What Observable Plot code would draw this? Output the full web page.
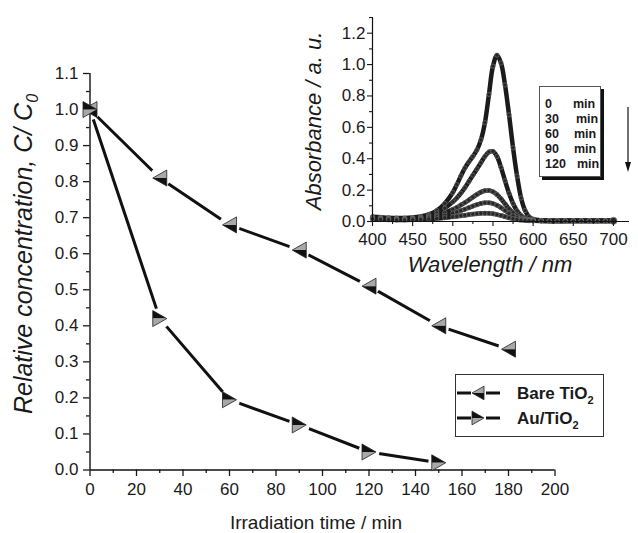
<!DOCTYPE html>
<html><head><meta charset="utf-8">
<script src="https://cdn.jsdelivr.net/npm/d3@7"></script>
<script src="https://cdn.jsdelivr.net/npm/@observablehq/plot@0.6"></script>
<style>
body{margin:0;background:#fff;}
#wrap{position:relative;width:638px;height:533px;font-family:"Liberation Sans",Arial,Helvetica,sans-serif;color:#1a1a1a;}
#wrap > *{position:absolute;}
</style></head><body><div id="wrap"></div>
<script>
const FONT = '"Liberation Sans", Arial, Helvetica, sans-serif';

// ---- main chart data ----
const timesBare = [0, 30, 60, 90, 120, 150, 180];
const bareTiO2  = [1.00, 0.81, 0.68, 0.61, 0.51, 0.40, 0.335];
const timesAu   = [0, 30, 60, 90, 120, 150];
const auTiO2    = [1.00, 0.42, 0.195, 0.125, 0.05, 0.02];
const xMajor = [0, 20, 40, 60, 80, 100, 120, 140, 160, 180, 200];
const xMinor = [10, 30, 50, 70, 90, 110, 130, 150, 170, 190];
const yMajor = [0, 0.1, 0.2, 0.3, 0.4, 0.5, 0.6, 0.7, 0.8, 0.9, 1.0, 1.1];
const yMinor = [0.05, 0.15, 0.25, 0.35, 0.45, 0.55, 0.65, 0.75, 0.85, 0.95, 1.05];
const seriesNames = ["Bare TiO", "Au/TiO"];

// ---- inset data ----
const wavelengths = [400,410,420,430,440,450,460,470,480,490,500,505,510,515,520,525,530,535,540,545,550,555,560,565,570,575,580,585,590,595,600,610,620,630,640,650,660,670,680,690,700];
const abs0   = [0.030,0.027,0.024,0.022,0.022,0.025,0.032,0.045,0.070,0.115,0.185,0.235,0.290,0.340,0.380,0.415,0.455,0.520,0.630,0.810,0.990,1.060,1.010,0.870,0.680,0.470,0.290,0.150,0.070,0.030,0.015,0.007,0.005,0.004,0.004,0.004,0.004,0.004,0.004,0.004,0.004];
const abs30  = [0.025,0.022,0.020,0.019,0.019,0.021,0.027,0.037,0.055,0.085,0.125,0.150,0.180,0.215,0.255,0.295,0.335,0.375,0.415,0.443,0.447,0.415,0.345,0.260,0.180,0.115,0.068,0.038,0.020,0.012,0.008,0.005,0.004,0.004,0.004,0.004,0.004,0.004,0.004,0.004,0.004];
const abs60  = [0.022,0.019,0.017,0.016,0.016,0.018,0.022,0.029,0.040,0.056,0.077,0.090,0.105,0.120,0.137,0.155,0.172,0.187,0.196,0.198,0.190,0.172,0.145,0.113,0.082,0.056,0.036,0.022,0.013,0.009,0.006,0.004,0.003,0.003,0.003,0.003,0.003,0.003,0.003,0.003,0.003];
const abs90  = [0.020,0.017,0.015,0.014,0.014,0.015,0.018,0.023,0.030,0.040,0.053,0.061,0.069,0.078,0.088,0.098,0.107,0.115,0.119,0.119,0.114,0.103,0.088,0.070,0.052,0.036,0.024,0.015,0.010,0.007,0.005,0.004,0.003,0.003,0.003,0.003,0.003,0.003,0.003,0.003,0.003];
const abs120 = [0.016,0.013,0.011,0.010,0.010,0.011,0.013,0.015,0.019,0.024,0.030,0.033,0.037,0.040,0.044,0.047,0.050,0.052,0.053,0.052,0.049,0.044,0.038,0.031,0.024,0.018,0.013,0.009,0.007,0.005,0.004,0.003,0.003,0.003,0.003,0.003,0.003,0.003,0.003,0.003,0.003];
const insetTimes = [0, 30, 60, 90, 120];
const insetXMajor = [400, 450, 500, 550, 600, 650, 700];
const insetXMinor = [425, 475, 525, 575, 625, 675];
const insetYMajor = [0, 0.2, 0.4, 0.6, 0.8, 1.0, 1.2];
const insetYMinor = [0.1, 0.3, 0.5, 0.7, 0.9, 1.1, 1.3];

// ---- custom half-triangle symbols ----
function tri(points){
  return {draw(ctx, size){
    const r = Math.sqrt(size / Math.PI), w = r, h = r * 8 / 7;
    points.forEach(([px, py], i) => i ? ctx.lineTo(px * w, py * h) : ctx.moveTo(px * w, py * h));
    ctx.closePath();
  }};
}
const leftUpper  = tri([[-1,0],[1,-1],[1,0]]);
const leftLower  = tri([[-1,0],[1,0],[1,1]]);
const leftFull   = tri([[-1,0],[1,-1],[1,1]]);
const rightUpper = tri([[1,0],[-1,-1],[-1,0]]);
const rightLower = tri([[1,0],[-1,0],[-1,1]]);
const rightFull  = tri([[1,0],[-1,-1],[-1,1]]);
const GRAY = "#a8a8a8", DARK = "#111";

const bareData = timesBare.map((t, i) => ({t, v: bareTiO2[i]}));
const auData   = timesAu.map((t, i) => ({t, v: auTiO2[i]}));

const wrap = document.getElementById("wrap");

const main = Plot.plot({
  width: 638, height: 533,
  marginLeft: 89.5, marginRight: 83.5, marginTop: 73, marginBottom: 63.5,
  x: {domain: [0, 200]}, y: {domain: [0, 1.1]},
  style: {fontFamily: FONT, fontSize: "17px", color: "#1a1a1a", background: "transparent", overflow: "visible"},
  marks: [
    Plot.line(bareData, {x: "t", y: "v", stroke: DARK, strokeWidth: 3}),
    Plot.line(auData, {x: "t", y: "v", stroke: DARK, strokeWidth: 3}),
    Plot.dot([...bareData, ...auData], {x: "t", y: "v", r: 10.5, fill: "white"}),
    Plot.axisX({ticks: xMinor, tickSize: 3.5, tickFormat: () => "", label: null, strokeWidth: 1.3}),
    Plot.axisX({ticks: xMajor, tickSize: 6.5, tickPadding: 6, tickFormat: d => String(d), label: null, strokeWidth: 1.3}),
    Plot.axisY({ticks: yMinor, tickSize: 3.5, tickFormat: () => "", label: null, strokeWidth: 1.3}),
    Plot.axisY({ticks: yMajor, tickSize: 6.5, tickPadding: 5, tickFormat: d => d.toFixed(1), label: null, strokeWidth: 1.3}),
    Plot.ruleY([0], {stroke: DARK, strokeWidth: 1.4}),
    Plot.ruleX([0], {stroke: DARK, strokeWidth: 1.4}),
    Plot.dot(bareData, {x: "t", y: "v", r: 7, symbol: leftUpper, fill: GRAY}),
    Plot.dot(bareData, {x: "t", y: "v", r: 7, symbol: leftLower, fill: DARK}),
    Plot.dot(bareData, {x: "t", y: "v", r: 7, symbol: leftFull, fill: "none", stroke: "#222", strokeWidth: 0.8}),
    Plot.dot(auData, {x: "t", y: "v", r: 7, symbol: rightUpper, fill: DARK}),
    Plot.dot(auData, {x: "t", y: "v", r: 7, symbol: rightLower, fill: GRAY}),
    Plot.dot(auData, {x: "t", y: "v", r: 7, symbol: rightFull, fill: "none", stroke: "#222", strokeWidth: 0.8})
  ]
});
main.style.left = "0px"; main.style.top = "0px";
wrap.appendChild(main);

const ms = d3.select(main);
const yt = ms.append("text").attr("transform", "translate(32,254) rotate(-90)")
  .attr("text-anchor", "middle").attr("font-style", "italic").attr("font-size", 25).attr("fill", "#1a1a1a");
yt.append("tspan").text("Relative concentration, C/ C");
yt.append("tspan").attr("font-size", 16).attr("dy", "0.35em").text("0");
ms.append("text").attr("x", 316).attr("y", 529).attr("text-anchor", "middle")
  .attr("font-size", 19).attr("fill", "#1a1a1a").text("Irradiation time / min");

// ---- inset ----
const insetSeries = [abs0, abs30, abs60, abs90, abs120];
const insetData = insetSeries.flatMap((arr, k) => wavelengths.map((w, i) => ({w, a: arr[i], s: insetTimes[k]})));
const inset = Plot.plot({
  width: 348, height: 280,
  marginLeft: 82, marginRight: 9, marginTop: 17, marginBottom: 59,
  x: {domain: [400, 720]}, y: {domain: [0, 1.3]},
  style: {fontFamily: FONT, fontSize: "17px", color: "#1a1a1a", background: "transparent", overflow: "visible"},
  marks: [
    Plot.line(insetData, {x: "w", y: "a", z: "s", curve: "catmull-rom", stroke: "#1b1b1b", strokeWidth: 4.5}),
    Plot.dot(insetData, {x: "w", y: "a", r: 2.2, fill: "#262626", stroke: "#7a7a7a", strokeWidth: 0.6}),
    Plot.dot(insetData.filter(d => d.w === 700 && d.s === 0), {x: "w", y: "a", r: 3.6, fill: "#262626", stroke: "#888", strokeWidth: 0.8}),
    Plot.axisX({ticks: insetXMinor, tickSize: 3, tickFormat: () => "", label: null, strokeWidth: 1.1}),
    Plot.axisX({ticks: insetXMajor, tickSize: 5, tickPadding: 6, tickFormat: d => String(d), label: null, strokeWidth: 1.1}),
    Plot.axisY({ticks: insetYMinor, tickSize: 3, tickFormat: () => "", label: null, strokeWidth: 1.1}),
    Plot.axisY({ticks: insetYMajor, tickSize: 5, tickPadding: 2, tickFormat: d => d.toFixed(1), label: null, strokeWidth: 1.1}),
    Plot.ruleY([0], {stroke: DARK, strokeWidth: 1.2}),
    Plot.ruleX([400], {stroke: DARK, strokeWidth: 1.2})
  ]
});
inset.style.left = "290px"; inset.style.top = "0px";
wrap.appendChild(inset);
const is = d3.select(inset);
is.append("text").attr("transform", "translate(31,121) rotate(-90)").attr("text-anchor", "middle")
  .attr("font-style", "italic").attr("font-size", 22).attr("fill", "#1a1a1a").text("Absorbance / a. u.");
is.append("text").attr("x", 200).attr("y", 272).attr("text-anchor", "middle")
  .attr("font-style", "italic").attr("font-size", 22).attr("fill", "#1a1a1a").text("Wavelength / nm");

// ---- inset legend box ----
const box = d3.select(wrap).append("div")
  .style("left", "539px").style("top", "86px").style("width", "62px").style("height", "91px")
  .style("border", "1px solid #555").style("background", "#fff").style("box-shadow", "3px 3px 0 #111")
  .style("font-weight", "bold").style("font-size", "12.5px").style("box-sizing", "border-box");
const minOffsets = [33, 36, 34, 34, 37];
insetTimes.forEach((t, i) => {
  box.append("span").style("position", "absolute").style("left", "5px").style("top", (10 + i * 15) + "px").text(String(t));
  box.append("span").style("position", "absolute").style("left", minOffsets[i] + "px").style("top", (10 + i * 15) + "px").text("min");
});
const arr = d3.select(wrap).append("svg").attr("width", 12).attr("height", 70)
  .style("left", "622px").style("top", "104px");
arr.append("line").attr("x1", 6).attr("x2", 6).attr("y1", 3).attr("y2", 62).attr("stroke", "#111").attr("stroke-width", 1.2);
arr.append("path").attr("d", "M3,58 L9,58 L6,68 Z").attr("fill", "#111");

// ---- main legend ----
const lg = d3.select(wrap).append("svg").attr("width", 152).attr("height", 64)
  .style("left", "455px").style("top", "374px").style("overflow", "visible");
lg.append("rect").attr("x", 0.5).attr("y", 0.5).attr("width", 148).attr("height", 62)
  .attr("fill", "white").attr("stroke", "#333").attr("stroke-width", 1);
const legendRows = [
  {y: 19, parts: [leftUpper, leftLower, leftFull], fills: [GRAY, DARK]},
  {y: 44, parts: [rightUpper, rightLower, rightFull], fills: [DARK, GRAY]}
];
legendRows.forEach((row, i) => {
  lg.append("line").attr("x1", 2).attr("x2", 16).attr("y1", row.y).attr("y2", row.y).attr("stroke", DARK).attr("stroke-width", 3);
  lg.append("line").attr("x1", 31).attr("x2", 45).attr("y1", row.y).attr("y2", row.y).attr("stroke", DARK).attr("stroke-width", 3);
  const sym = d3.symbol().size(6 * 6 * Math.PI);
  lg.append("path").attr("transform", `translate(23,${row.y})`).attr("d", sym.type(row.parts[0])()).attr("fill", row.fills[0]);
  lg.append("path").attr("transform", `translate(23,${row.y})`).attr("d", sym.type(row.parts[1])()).attr("fill", row.fills[1]);
  lg.append("path").attr("transform", `translate(23,${row.y})`).attr("d", sym.type(row.parts[2])()).attr("fill", "none").attr("stroke", "#222").attr("stroke-width", 0.8);
  const tx = lg.append("text").attr("x", 62).attr("y", row.y + 6).attr("font-weight", "bold").attr("font-size", 17).attr("fill", "#1a1a1a").attr("font-family", FONT);
  tx.append("tspan").text(seriesNames[i]);
  tx.append("tspan").attr("font-size", 11).attr("dy", 5).text("2");
});
</script></body></html>
